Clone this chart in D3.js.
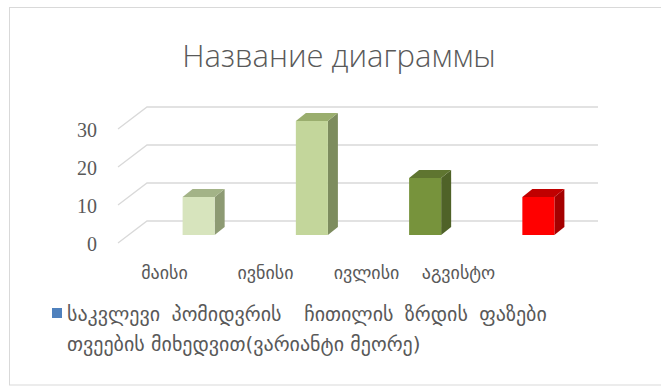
<!DOCTYPE html>
<html><head><meta charset="utf-8">
<script src="https://cdn.jsdelivr.net/npm/d3@7"></script>
<style>body{margin:0;background:#fff}svg{display:block}</style>
</head><body>
<script>
const title = "Название диаграммы";
const categories = ["მაისი", "ივნისი", "ივლისი", "აგვისტო"];
const values = [10, 30, 15, 10];
const yTicks = [0, 10, 20, 30];
const legendLines = ["საკვლევი პომიდვრის  ჩითილის ზრდის ფაზები", "თვეების მიხედვით(ვარიანტი მეორე)"];
const frontColors = ["#d7e4bd", "#c3d69b", "#77933c", "#ff0000"];
const sideColors = ["#8d9a73", "#7d8c5e", "#4f6228", "#a50000"];
const topColors = ["#a3b387", "#9aae6e", "#5f7530", "#c00000"];

const W = 661, H = 387;
const svg = d3.select("body").append("svg").attr("width", W).attr("height", H);

// chart frame
svg.append("rect").attr("x", 9.5).attr("y", 7.5).attr("width", 700).attr("height", 377.5)
  .attr("fill", "#fff").attr("stroke", "#d9d9d9");

svg.append("text").attr("x", 339).attr("y", 55).attr("text-anchor", "middle")
  .attr("dominant-baseline", "central")
  .attr("font-family", "Open Sans, Lato, sans-serif").attr("font-weight", 300)
  .attr("font-size", 31).attr("fill", "#595959").text(title);

// 3D geometry
const depthX = 29, depthY = 22;      // floor depth
const barDX = 10, barDY = 8;         // bar depth
const backLeft = 147, backRight = 598;

const y = d3.scaleLinear().domain([0, 30]).range([235, 121]);
const x = d3.scaleBand().domain(categories).range([142, 595]).paddingInner(0.717).paddingOuter(0.3585);
const gridY = v => y(v) - 14;

// gridlines
const grid = svg.append("g");
yTicks.forEach(t => {
  const gy = gridY(t);
  grid.append("path")
    .attr("d", `M${backLeft - depthX},${gy + depthY}L${backLeft},${gy}L${backRight},${gy}`)
    .attr("fill", "none").attr("stroke", "#d9d9d9").attr("stroke-width", 1.3);
  grid.append("text").attr("x", 97).attr("y", gy + depthY + 1)
    .attr("text-anchor", "end").attr("dominant-baseline", "central")
    .attr("font-family", "Liberation Serif, serif").attr("font-size", 20)
    .attr("fill", "#595959").text(t);
});

// bars
const bars = svg.append("g");
categories.forEach((c, i) => {
  const x0 = x(c), x1 = x0 + x.bandwidth();
  const yt = y(values[i]), yb = y(0);
  bars.append("path")
    .attr("d", `M${x1},${yt}L${x1 + barDX},${yt - barDY}L${x1 + barDX},${yb - barDY}L${x1},${yb}Z`)
    .attr("fill", sideColors[i]);
  bars.append("path")
    .attr("d", `M${x0},${yt}L${x0 + barDX},${yt - barDY}L${x1 + barDX},${yt - barDY}L${x1},${yt}Z`)
    .attr("fill", topColors[i]);
  bars.append("rect").attr("x", x0).attr("y", yt).attr("width", x.bandwidth()).attr("height", yb - yt)
    .attr("fill", frontColors[i]);
});

// category labels
const xl = d3.scaleBand().domain(categories).range([114, 518]);
categories.forEach((c, i) => {
  svg.append("text").attr("x", xl(c) + xl.bandwidth() / 2 + (i === 3 ? -9 : 0)).attr("y", 272)
    .attr("text-anchor", "middle").attr("dominant-baseline", "central")
    .attr("font-family", "DejaVu Sans, sans-serif").attr("font-size", 18)
    .attr("fill", "#595959").text(c);
});

// legend
svg.append("rect").attr("x", 52).attr("y", 308).attr("width", 10).attr("height", 10).attr("fill", "#4f81bd");
legendLines.forEach((l, i) => {
  svg.append("text").attr("x", 67).attr("y", 314 + i * 30)
    .attr("dominant-baseline", "central").style("white-space", "pre")
    .style("word-spacing", i === 0 ? "5px" : "0px")
    .attr("font-family", "DejaVu Sans, sans-serif").attr("font-size", 20)
    .attr("fill", "#595959").text(l);
});
</script>
</body></html>
